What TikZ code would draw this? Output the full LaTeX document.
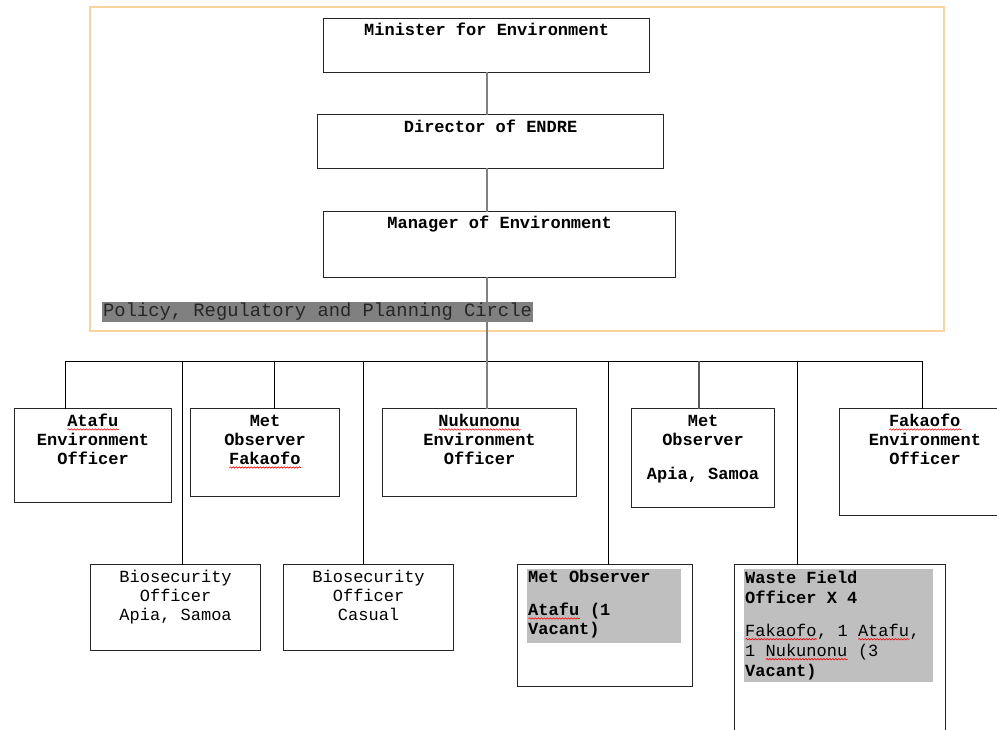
\documentclass[tikz,border=0pt]{standalone}
\usepackage{fontspec}
\setmonofont{Liberation Mono}
\usetikzlibrary{positioning,decorations.pathmorphing}
\definecolor{framecol}{HTML}{FAD49C}
\definecolor{shade}{HTML}{BFBFBF}
\definecolor{darkshade}{HTML}{808080}
\newsavebox\spellbox
\newcommand\spell[1]{\sbox\spellbox{#1}\rlap{\usebox\spellbox}\tikz[baseline=0pt]\draw[red, line width=0.6pt, line cap=round, decorate,
  decoration={snake, amplitude=0.7pt, segment length=3pt}] (0pt,-3pt) -- (\wd\spellbox,-3pt);}

\begin{document}
\begin{tikzpicture}[
  x=1pt, y=-1pt,
  font=\ttfamily\bfseries\fontsize{17}{19}\selectfont,
  line cap=rect,
  box/.style={draw=black!85, line width=1.2pt, anchor=north west, inner sep=0pt},
  txt/.style={anchor=north, align=center, inner sep=0pt},
  ltxt/.style={anchor=north west, align=left, inner sep=0pt},
  graybox/.style={fill=shade, anchor=north west, inner sep=0pt},
  vline/.style={draw=darkshade, line width=1.8pt},
  hline/.style={draw=black, line width=1pt}
]
\useasboundingbox (0,0) rectangle (997,730);
\clip (0,0) rectangle (997,730);

\draw[framecol, line width=1.2pt] (90,7) rectangle (944,331);

\node[box, minimum width=326pt, minimum height=54pt] (minister) at (323,18) {};
  \node[txt, below=4pt of minister.north] (t-minister) {\strut Minister for Environment};
\node[box, minimum width=346pt, minimum height=54pt] (director) at (317,114) {};
  \node[txt, below=5pt of director.north] (t-director) {\strut Director of ENDRE};
\node[box, minimum width=352pt, minimum height=66pt] (manager) at (323,211) {};
  \node[txt, below=4pt of manager.north] (t-manager) {\strut Manager of Environment};

\node[fill=darkshade, text=black!85, anchor=north west, inner sep=1pt, minimum height=19pt,
  font=\ttfamily\fontsize{18.8}{19}\selectfont] (policy) at (102,302) {Policy, Regulatory and Planning Circle};

\node[box, minimum width=157pt, minimum height=94pt] (atafu) at (14,408) {};
  \node[txt, below=5pt of atafu.north] (t-atafu) {\strut\spell{Atafu}\\Environment\\Officer};
\node[box, minimum width=149pt, minimum height=88pt] (metfak) at (190,408) {};
  \node[txt, below=5pt of metfak.north] (t-metfak) {\strut Met\\Observer\\\spell{Fakaofo}};
\node[box, minimum width=194pt, minimum height=88pt] (nukunonu) at (382,408) {};
  \node[txt, below=5pt of nukunonu.north] (t-nukunonu) {\strut\spell{Nukunonu}\\Environment\\Officer};
\node[box, minimum width=143pt, minimum height=99pt] (metapia) at (631,408) {};
  \node[txt, below=5pt of metapia.north] (t-metapia) {\strut Met\\Observer\\[15pt]Apia, Samoa};
\node[box, minimum width=170pt, minimum height=107pt] (fakaofo) at (839,408) {};
  \node[txt] (t-fakaofo) at (925,413) {\strut\spell{Fakaofo}\\Environment\\Officer};

\node[box, minimum width=170pt, minimum height=86pt] (bioapia) at (90,564) {};
  \node[txt, below=5pt of bioapia.north, font=\ttfamily\fontsize{17}{19}\selectfont] (t-bioapia) {\strut Biosecurity\\Officer\\Apia, Samoa};
\node[box, minimum width=170pt, minimum height=86pt] (biocas) at (283,564) {};
  \node[txt, below=5pt of biocas.north, font=\ttfamily\fontsize{17}{19}\selectfont] (t-biocas) {\strut Biosecurity\\Officer\\Casual};
\node[box, minimum width=175pt, minimum height=122pt] (metatafu) at (517,564) {};
  \node[graybox, minimum width=154pt, minimum height=74pt] (g-metatafu) at (527,569) {};
  \node[ltxt, below right=0pt and 1pt of g-metatafu.north west] (t-metatafu) {\strut Met Observer\\[14pt]\spell{Atafu} (1\\Vacant)};
\node[box, minimum width=211pt, minimum height=200pt] (waste) at (734,564) {};
  \node[graybox, minimum width=189pt, minimum height=113pt] (g-waste) at (744,569) {};
  \node[ltxt, below right=0pt and 1pt of g-waste.north west, font=\ttfamily\mdseries\fontsize{17}{20}\selectfont] (t-waste) {\strut\bfseries Waste Field\\\bfseries Officer X 4\\[13pt]\spell{Fakaofo}, 1 \spell{Atafu},\\1 \spell{Nukunonu} (3\\\bfseries Vacant)};

\coordinate (j1) at (65,362);
\coordinate (j2) at (182,362);
\coordinate (j3) at (274,362);
\coordinate (j4) at (363,362);
\coordinate (j5) at (608,362);
\coordinate (j6) at (699,362);
\coordinate (j7) at (797,362);
\coordinate (j8) at (922,362);

\draw[hline] (j1) -- (j8);
  \draw[hline] (j1) -- (j1 |- atafu.north);
  \draw[hline] (j2) -- (j2 |- bioapia.north);
  \draw[hline] (j3) -- (j3 |- metfak.north);
  \draw[hline] (j4) -- (j4 |- biocas.north);
  \draw[hline] (j5) -- (j5 |- metatafu.north);
  \draw[hline, draw=black!65, line width=1.4pt] (j6) -- (j6 |- metapia.north);
  \draw[hline] (j7) -- (j7 |- waste.north);
  \draw[hline] (j8) -- (j8 |- fakaofo.north);

\draw[vline] (minister.south) -- (minister.south |- director.north);
\draw[vline] (minister.south |- director.south) -- (minister.south |- manager.north);
\draw[vline] (minister.south |- manager.south) -- (minister.south |- nukunonu.north);
\end{tikzpicture}
\end{document}
